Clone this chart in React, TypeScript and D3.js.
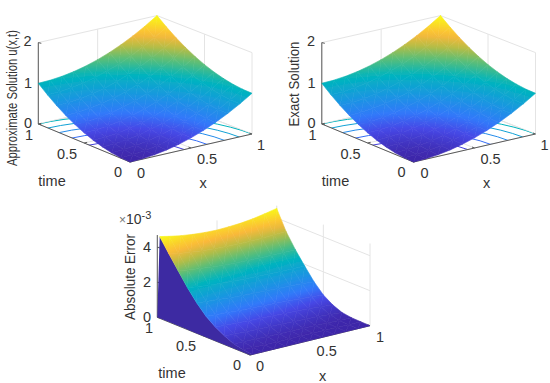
import React from "react";
import * as d3 from "d3";

// grid positions
const xGrid = [0, 0.1, 0.2, 0.3, 0.4, 0.5, 0.6, 0.7, 0.8, 0.9, 1];
const tGrid = [0, 0.1, 0.2, 0.3, 0.4, 0.5, 0.6, 0.7, 0.8, 0.9, 1];
// error plot starts with a very narrow strip next to x = 0
const xGridErr = [0.02, 0.1, 0.2, 0.3, 0.4, 0.5, 0.6, 0.7, 0.8, 0.9, 1];

// rows = time, columns = x
const uValues = [
  [0, 0.01, 0.04, 0.09, 0.16, 0.25, 0.36, 0.49, 0.64, 0.81, 1],
  [0.01, 0.02, 0.05, 0.1, 0.17, 0.26, 0.37, 0.5, 0.65, 0.82, 1.01],
  [0.04, 0.05, 0.08, 0.13, 0.2, 0.29, 0.4, 0.53, 0.68, 0.85, 1.04],
  [0.09, 0.1, 0.13, 0.18, 0.25, 0.34, 0.45, 0.58, 0.73, 0.9, 1.09],
  [0.16, 0.17, 0.2, 0.25, 0.32, 0.41, 0.52, 0.65, 0.8, 0.97, 1.16],
  [0.25, 0.26, 0.29, 0.34, 0.41, 0.5, 0.61, 0.74, 0.89, 1.06, 1.25],
  [0.36, 0.37, 0.4, 0.45, 0.52, 0.61, 0.72, 0.85, 1, 1.17, 1.36],
  [0.49, 0.5, 0.53, 0.58, 0.65, 0.74, 0.85, 0.98, 1.13, 1.3, 1.49],
  [0.64, 0.65, 0.68, 0.73, 0.8, 0.89, 1, 1.13, 1.28, 1.45, 1.64],
  [0.81, 0.82, 0.85, 0.9, 0.97, 1.06, 1.17, 1.3, 1.45, 1.62, 1.81],
  [1, 1.01, 1.04, 1.09, 1.16, 1.25, 1.36, 1.49, 1.64, 1.81, 2],
];

// absolute error, in units of 1e-3
const errValues = [
  [0, 0, 0, 0, 0, 0, 0, 0, 0, 0, 0],
  [0.05, 0.04, 0.04, 0.03, 0.03, 0.03, 0.02, 0.02, 0.01, 0.01, 0.01],
  [0.17, 0.16, 0.15, 0.13, 0.12, 0.11, 0.1, 0.08, 0.06, 0.04, 0.03],
  [0.4, 0.38, 0.35, 0.33, 0.31, 0.29, 0.27, 0.24, 0.21, 0.16, 0.11],
  [0.7, 0.67, 0.63, 0.6, 0.57, 0.54, 0.51, 0.48, 0.44, 0.39, 0.33],
  [1.1, 1.06, 1.01, 0.97, 0.93, 0.9, 0.87, 0.83, 0.79, 0.74, 0.68],
  [1.65, 1.6, 1.54, 1.48, 1.44, 1.4, 1.37, 1.34, 1.31, 1.27, 1.22],
  [2.3, 2.23, 2.15, 2.09, 2.04, 2, 1.97, 1.95, 1.93, 1.91, 1.9],
  [3.05, 2.97, 2.88, 2.8, 2.74, 2.7, 2.67, 2.65, 2.64, 2.63, 2.62],
  [3.8, 3.7, 3.6, 3.52, 3.46, 3.42, 3.4, 3.39, 3.4, 3.42, 3.45],
  [4.58, 4.46, 4.33, 4.24, 4.18, 4.15, 4.17, 4.21, 4.29, 4.41, 4.55],
];

const contourLevels = [0.2, 0.4, 0.6, 0.8, 1];
const uTicks = [0, 1, 2];
const errTicks = [0, 2, 4];
const planeTicks = [0, 0.5, 1];

const parulaStops = ["#3e26a8", "#4648e6", "#3278fa", "#1a96e1", "#00b4be", "#5abe78", "#b4bd46", "#fbb83a", "#f9fb15"];
const parulaPos = [0, 0.125, 0.22, 0.345, 0.5, 0.63, 0.73, 0.83, 1];

type Pt = [number, number];

const font = "'Liberation Sans', Arial, sans-serif";
const textCol = "#333";

function Panel({ id, corners, zTop, zPx, values, xs, ticks, contours, wall, colorMax, labels }: any) {
  const color = d3.scaleLinear<string>().domain(parulaPos.map(d => d * colorMax)).range(parulaStops).clamp(true);

  const frontEdge = d3.interpolate(corners.o, corners.x);
  const backEdge = d3.interpolate(corners.t, corners.b);
  const zScale = d3.scaleLinear().domain([0, 1]).range([0, -zPx]);
  const project = (x: number, t: number, z = 0): Pt => {
    const a = frontEdge(x) as number[];
    const b = backEdge(x) as number[];
    return [a[0] + (b[0] - a[0]) * t, a[1] + (b[1] - a[1]) * t + zScale(z)];
  };
  const line = d3.line<Pt>();
  const seg = (a: Pt, b: Pt) => line([a, b]) as string;

  // triangles of the surface, far ones first, each with its own linear gradient
  const tris: any[] = [];
  tGrid.slice(0, -1).forEach((t0, j) => {
    xs.slice(0, -1).forEach((x0: number, i: number) => {
      const t1 = tGrid[j + 1];
      const x1 = xs[i + 1];
      const a = { p: project(x0, t0, values[j][i]), v: values[j][i] };
      const b = { p: project(x1, t0, values[j][i + 1]), v: values[j][i + 1] };
      const c = { p: project(x1, t1, values[j + 1][i + 1]), v: values[j + 1][i + 1] };
      const d = { p: project(x0, t1, values[j + 1][i]), v: values[j + 1][i] };
      tris.push({ v: [a, b, c], depth: x0 + t0 + 0.01 });
      tris.push({ v: [a, c, d], depth: x0 + t0 + 0.02 });
    });
  });
  tris.sort((p, q) => q.depth - p.depth);

  const grads: React.ReactNode[] = [];
  const paths = tris.map((tr, k) => {
    const [p, q, r] = tr.v;
    const d = (line(tr.v.map((n: any) => n.p)) as string) + "Z";
    const lo = d3.least(tr.v, (n: any) => n.v) as any;
    const hi = d3.greatest(tr.v, (n: any) => n.v) as any;
    const det = (q.p[0] - p.p[0]) * (r.p[1] - p.p[1]) - (r.p[0] - p.p[0]) * (q.p[1] - p.p[1]);
    if (Math.abs(det) < 1e-4 || hi.v - lo.v < 1e-6) {
      return <path key={k} d={d} fill={color(lo.v)} stroke={color(lo.v)} strokeWidth={0.6} />;
    }
    const ax = ((q.v - p.v) * (r.p[1] - p.p[1]) - (r.v - p.v) * (q.p[1] - p.p[1])) / det;
    const ay = ((r.v - p.v) * (q.p[0] - p.p[0]) - (q.v - p.v) * (r.p[0] - p.p[0])) / det;
    const len = ax * ax + ay * ay;
    const gid = `${id}-g${k}`;
    grads.push(
      <linearGradient key={gid} id={gid} gradientUnits="userSpaceOnUse"
        x1={lo.p[0]} y1={lo.p[1]}
        x2={lo.p[0] + (ax * (hi.v - lo.v)) / len} y2={lo.p[1] + (ay * (hi.v - lo.v)) / len}>
        {[0, 0.25, 0.5, 0.75, 1].map(o => (
          <stop key={o} offset={o} stopColor={color(lo.v + o * (hi.v - lo.v))} />
        ))}
      </linearGradient>
    );
    return <path key={k} d={d} fill={`url(#${gid})`} stroke={`url(#${gid})`} strokeWidth={0.6} />;
  });

  // contour lines on the floor
  let contourPaths: React.ReactNode = null;
  if (contours) {
    const n = xs.length;
    const sets = d3.contours().size([n, n]).thresholds(contourLevels)(values.flat());
    const gridX = d3.scaleLinear().domain([0.5, n - 0.5]).range([0, 1]);
    contourPaths = sets.map((s: any) => (
      <path key={s.value} fill="none" stroke={color(s.value)} strokeWidth={1}
        clipPath={`url(#${id}-floor)`}
        d={s.coordinates.flatMap((poly: any) => poly.map((ring: any) =>
          line(ring.map((c: number[]) => project(gridX(c[0]), gridX(c[1]))))
        )).join("")} />
    ));
  }

  const floor = (line([project(0, 0), project(1, 0), project(1, 1), project(0, 1)]) as string) + "Z";
  const gridCol = "#e4e4e4";
  const axisCol = "#5a5a5a";
  const wallPts: Pt[] = wall
    ? [...tGrid.map(t => project(0, t)), ...tGrid.map((t, j) => project(xs[0], t, values[j][0])).reverse()]
    : [];

  return (
    <g>
      <defs>
        <clipPath id={`${id}-floor`}><path d={floor} /></clipPath>
        <filter id={`${id}-soft`} x="-5%" y="-5%" width="110%" height="110%">
          <feGaussianBlur stdDeviation={0.45} />
        </filter>
        {grads}
      </defs>
      {/* back walls and floor grid */}
      {ticks.map((z: number) => (
        <g key={z} stroke={gridCol} fill="none">
          <path d={seg(project(0, 1, z), project(1, 1, z))} />
          <path d={seg(project(1, 1, z), project(1, 0, z))} />
        </g>
      ))}
      {planeTicks.map(v => (
        <g key={v} stroke={gridCol} fill="none">
          <path d={seg(project(v, 1), project(v, 1, zTop))} />
          <path d={seg(project(1, v), project(1, v, zTop))} />
          <path d={seg(project(v, 0), project(v, 1))} />
          <path d={seg(project(0, v), project(1, v))} />
        </g>
      ))}
      {contourPaths}
      {/* axes */}
      <g stroke={axisCol} strokeWidth={1} fill="none">
        <path d={seg(project(0, 1), project(0, 1, zTop))} />
        <path d={seg(project(0, 0), project(0, 1))} />
        <path d={seg(project(0, 0), project(1, 0))} />
        {ticks.map((z: number) => {
          const p = project(0, 1, z);
          return <path key={z} d={seg(p, [p[0] + 3, p[1] + 0.7])} />;
        })}
        {planeTicks.map(v => {
          const a = project(v, 0);
          const b = project(0, v);
          return (
            <g key={v}>
              <path d={seg(a, [a[0] - 2.5, a[1] - 1])} />
              <path d={seg(b, [b[0] + 3, b[1] - 0.7])} />
            </g>
          );
        })}
      </g>
      <g filter={`url(#${id}-soft)`}>
        {wall && <path d={(line(wallPts) as string) + "Z"} fill="#3c2ba2" />}
        {paths}
      </g>
      {/* labels */}
      <g fontFamily={font} fill={textCol} textAnchor="middle">
        {labels.map((l: any, i: number) => (
          <text key={i} x={l[0]} y={l[1] + 5} fontSize={l[3] ?? 14.5}>{l[2]}</text>
        ))}
      </g>
    </g>
  );
}

const YLabel = ({ x, y, text, len }: any) => (
  <text transform={`translate(${x},${y}) rotate(-90)`} textAnchor="middle" fontFamily={font} fontSize={15}
    textLength={len} lengthAdjust="spacingAndGlyphs" fill={textCol}>{text}</text>
);

const topLabels = (dx: number) => [
  [27.5 + dx, 41, "2"], [28 + dx, 83, "1"], [28 + dx, 123, "0"],
  [29 + dx, 135, "1"], [67 + dx, 154, "0.5"], [118 + dx, 172, "0"],
  [141 + dx, 173, "0"], [207 + dx, 159, "0.5"], [261 + dx, 145, "1"],
  [52 + dx, 181, "time"], [203 + dx, 183, "x"],
];

const shift = (c: any, dx: number) => ({
  o: [c.o[0] + dx, c.o[1]], x: [c.x[0] + dx, c.x[1]], t: [c.t[0] + dx, c.t[1]], b: [c.b[0] + dx, c.b[1]],
});

export default function App() {
  const topCorners = { o: [130, 162], x: [252, 134], t: [38.3, 124], b: [157, 97] };
  const errCorners = { o: [250, 355], x: [370, 325.7], t: [157.3, 317.3], b: [276.7, 288] };
  return (
    <svg width={550} height={383} style={{ position: "absolute", left: 0, top: 0, background: "#fff" }}>
      <Panel id="a" corners={topCorners} zTop={2} zPx={40.7} values={uValues} xs={xGrid} ticks={uTicks}
        contours colorMax={2} labels={topLabels(0)} />
      <Panel id="b" corners={shift(topCorners, 283.5)} zTop={2} zPx={40.7} values={uValues} xs={xGrid} ticks={uTicks}
        contours colorMax={2} labels={topLabels(283.5)} />
      <Panel id="c" corners={errCorners} zTop={4.7} zPx={17.5} values={errValues} xs={xGridErr} ticks={errTicks}
        wall colorMax={4.6}
        labels={[
          [147, 246.7, "4"], [147, 282, "2"], [147, 316.7, "0"],
          [149, 327.7, "1"], [186, 345.7, "0.5"], [237, 365, "0"],
          [260, 365.7, "0"], [326.7, 351, "0.5"], [380, 337.3, "1"],
          [172, 373, "time"], [322.7, 376, "x"],
        ]} />
      <YLabel x={17} y={98} text="Approximate Solution u(x,t)" len={136} />
      <YLabel x={299} y={84} text="Exact Solution" len={85} />
      <YLabel x={135} y={277} text="Absolute Error" len={86} />
      <text x={119} y={224} fontFamily={font} fontSize={14} fill={textCol}>
        <tspan fontSize={12} fill="#777">×</tspan>10<tspan dy={-5} fontSize={11}>-3</tspan>
      </text>
    </svg>
  );
}
